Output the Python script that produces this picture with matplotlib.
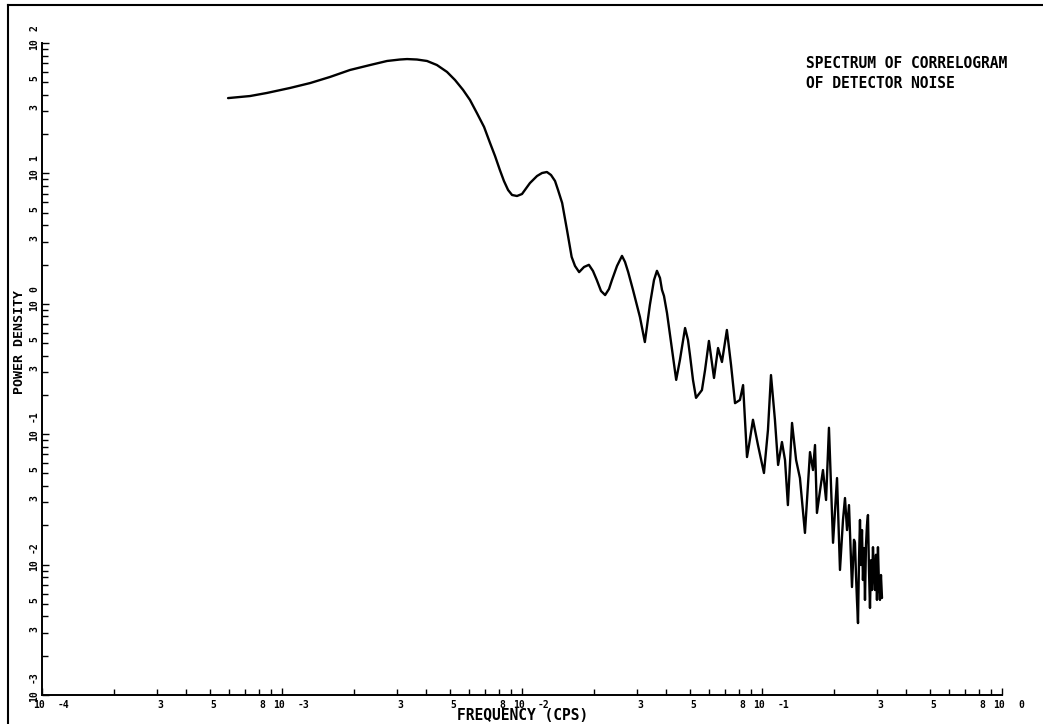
import matplotlib
matplotlib.use("Agg")
import matplotlib.pyplot as plt
from matplotlib.transforms import blended_transform_factory, offset_copy
from matplotlib.ticker import LogLocator, NullFormatter
from matplotlib.lines import Line2D

# ---- data (frequency in cps, power density) ----
freq_cps = [
    5.96e-4, 7.36e-4, 8.66e-4, 1.080e-3, 1.31e-3, 1.585e-3, 1.92e-3, 2.33e-3,
    2.74e-3, 3.10e-3, 3.32e-3, 3.65e-3, 4.02e-3, 4.42e-3, 4.87e-3, 5.26e-3,
    5.68e-3, 6.07e-3, 6.49e-3, 6.95e-3, 7.36e-3, 7.72e-3, 8.09e-3, 8.41e-3,
    8.75e-3, 9.09e-3, 9.53e-3, 1.0e-2, 1.049e-2, 1.079e-2, 1.155e-2, 1.212e-2,
    1.27e-2, 1.321e-2, 1.373e-2, 1.413e-2, 1.47e-2, 1.54e-2, 1.61e-2, 1.663e-2,
    1.73e-2, 1.813e-2, 1.90e-2, 1.976e-2, 2.05e-2, 2.134e-2, 2.22e-2, 2.304e-2,
    2.37e-2, 2.488e-2, 2.61e-2, 2.687e-2, 2.77e-2, 2.90e-2, 3.10e-2, 3.25e-2,
    3.41e-2, 3.548e-2, 3.65e-2, 3.758e-2, 3.83e-2, 3.905e-2, 4.02e-2, 4.22e-2,
    4.39e-2, 4.55e-2, 4.78e-2, 4.916e-2, 5.01e-2, 5.158e-2, 5.31e-2,
    5.62e-2, 5.79e-2, 6.01e-2, 6.31e-2, 6.56e-2, 6.81e-2, 7.14e-2, 7.43e-2,
    7.72e-2, 8.09e-2, 8.34e-2, 8.66e-2, 8.83e-2, 9.17e-2, 9.62e-2, 0.1019,
    0.1059, 0.1090, 0.1132, 0.1167, 0.1211, 0.1247, 0.1282, 0.1334,
    0.1387, 0.1439, 0.1510, 0.1585, 0.1631, 0.1663, 0.1694, 0.1746,
    0.1795, 0.1849, 0.1901, 0.1977, 0.2054, 0.2113, 0.2175,
    0.2217, 0.2261, 0.2304, 0.2349, 0.2371, 0.2417, 0.2440, 0.2464,
    0.2487, 0.2512, 0.2536, 0.2560, 0.2585, 0.2610, 0.2634, 0.2661,
    0.2686, 0.2712, 0.2738, 0.2764, 0.2791, 0.2818, 0.2845, 0.2872,
    0.2900, 0.2928, 0.2956, 0.2985, 0.3013, 0.3042, 0.3072, 0.3101,
    0.3131, 0.3162,
]
power_density = [
    37.8, 39.2, 41.4, 45.2, 49.3, 54.9, 62.1, 67.8,
    72.8, 74.7, 75.3, 74.7, 72.8, 67.8, 60.0, 52.0,
    43.7, 36.6, 29.0, 22.7, 17.1, 13.6, 10.6, 8.74,
    7.46, 6.83, 6.71, 6.95, 7.86, 8.43, 9.55, 10.07,
    10.25, 9.72, 8.74, 7.46, 5.93, 3.68, 2.29, 1.95,
    1.75, 1.915, 1.99, 1.785, 1.52, 1.254, 1.167, 1.299,
    1.52, 1.95, 2.33, 2.093, 1.75, 1.28, 0.792, 0.509,
    0.979, 1.522, 1.79, 1.577, 1.28, 1.148, 0.849, 0.443,
    0.261, 0.371, 0.652, 0.528, 0.405, 0.2604, 0.190,
    0.218, 0.310, 0.519, 0.270, 0.458, 0.358, 0.630, 0.340,
    0.173, 0.183, 0.238, 0.0668, 0.0826, 0.129, 0.0826, 0.0504,
    0.108, 0.284, 0.129, 0.0581, 0.0871, 0.0634, 0.0286, 0.122,
    0.0634, 0.0461, 0.0175, 0.0729, 0.0531, 0.0826, 0.0249, 0.0373,
    0.0531, 0.0313, 0.112, 0.0147, 0.0461, 0.0091, 0.0220,
    0.0324, 0.0184, 0.0286, 0.0108, 0.00673, 0.0155, 0.0147, 0.00832,
    0.00536, 0.00356, 0.0108, 0.0220, 0.00993, 0.0184, 0.00762, 0.0134,
    0.00536, 0.0141, 0.0201, 0.0240, 0.0091, 0.00465, 0.0108, 0.00638,
    0.0136, 0.00832, 0.00638, 0.0119, 0.00536, 0.0136, 0.00698, 0.00536,
    0.00832, 0.00555,
]

x_decades = [1e-4, 1e-3, 1e-2, 1e-1, 1e0]
x_decade_exponents = ["-4", "-3", "-2", "-1", "0"]
x_minor_labels = [3, 5, 8]
y_decades = [1e-3, 1e-2, 1e-1, 1e0, 1e1, 1e2]
y_decade_exponents = ["-3", "-2", "-1", "0", "1", "2"]
y_minor_labels = [3, 5]

title_lines = ["SPECTRUM OF CORRELOGRAM", "OF DETECTOR NOISE"]
x_title = "FREQUENCY (CPS)"
y_title = "POWER DENSITY"

FONT = "DejaVu Sans Mono"
W, H = 1043, 724

fig = plt.figure(figsize=(W / 100, H / 100), dpi=100)
fig.patch.set_facecolor("white")
ax = fig.add_axes([42 / W, 29 / H, 960 / W, 652 / H])
ax.plot(freq_cps, power_density, color="black", lw=1.7,
        solid_joinstyle="round", solid_capstyle="round")
ax.set_xscale("log")
ax.set_yscale("log")
ax.set_xlim(1e-4, 1e0)
ax.set_ylim(1e-3, 1e2)

for s in ["top", "right"]:
    ax.spines[s].set_visible(False)
for s in ["left", "bottom"]:
    ax.spines[s].set_linewidth(1.4)
    ax.spines[s].set_color("black")

for axis in (ax.xaxis, ax.yaxis):
    axis.set_major_locator(LogLocator(base=10, numticks=12))
    axis.set_minor_locator(LogLocator(base=10, subs=range(2, 10), numticks=12))
    axis.set_minor_formatter(NullFormatter())
ax.tick_params(which="both", direction="in", labelbottom=False, labelleft=False,
               color="black", width=1.0)
ax.tick_params(which="major", length=5)
ax.tick_params(which="minor", length=4.5)

tick_fs = 7
xb = blended_transform_factory(ax.transData, ax.transAxes)
yb = blended_transform_factory(ax.transAxes, ax.transData)

# x-axis labels
for d, e in zip(x_decades, x_decade_exponents):
    ax.text(d, 0, "10", transform=offset_copy(xb, fig, x=-3, y=-10, units="dots"),
            ha="center", va="center", fontsize=tick_fs, family=FONT, weight="bold")
    ax.text(d, 0, e, transform=offset_copy(xb, fig, x=16, y=-10, units="dots"),
            ha="left", va="center", fontsize=tick_fs, family=FONT, weight="bold")
    if d < 1:
        for m in x_minor_labels:
            ax.text(m * d, 0, str(m), transform=offset_copy(xb, fig, x=1, y=-10, units="dots"),
                    ha="left", va="center", fontsize=tick_fs, family=FONT, weight="bold")

# y-axis labels (rotated)
for d, e in zip(y_decades, y_decade_exponents):
    ax.text(0, d, "10", transform=offset_copy(yb, fig, x=-8, y=-1, units="dots"),
            ha="center", va="center", rotation=90, fontsize=tick_fs, family=FONT, weight="bold")
    ax.text(0, d, e, transform=offset_copy(yb, fig, x=-8, y=12, units="dots"),
            ha="center", va="bottom", rotation=90, fontsize=tick_fs, family=FONT, weight="bold")
    if d < 1e2:
        for m in y_minor_labels:
            ax.text(0, m * d, str(m), transform=offset_copy(yb, fig, x=-8, y=1, units="dots"),
                    ha="center", va="bottom", rotation=90, fontsize=tick_fs, family=FONT,
                    weight="bold")

# axis titles
fig.text(523 / W, 1 - 716 / H, x_title, ha="center", va="center",
         fontsize=10.5, family=FONT, weight="bold")
fig.text(20 / W, 1 - 342 / H, y_title, ha="center", va="center", rotation=90,
         fontsize=9.5, family=FONT, weight="bold")

# annotation
for i, line in enumerate(title_lines):
    fig.text(806 / W, 1 - (64 + 19 * i) / H, line, ha="left", va="center",
             fontsize=10.5, family=FONT, weight="bold")

# scanned page frame (left and top edges)
fig.add_artist(Line2D([8 / W, 8 / W], [0, 1 - 5 / H], transform=fig.transFigure,
                      color="black", lw=1.5))
fig.add_artist(Line2D([8 / W, 1], [1 - 5 / H, 1 - 5 / H], transform=fig.transFigure,
                      color="black", lw=1.5))

fig.savefig("out.png", dpi=100, facecolor="white")
